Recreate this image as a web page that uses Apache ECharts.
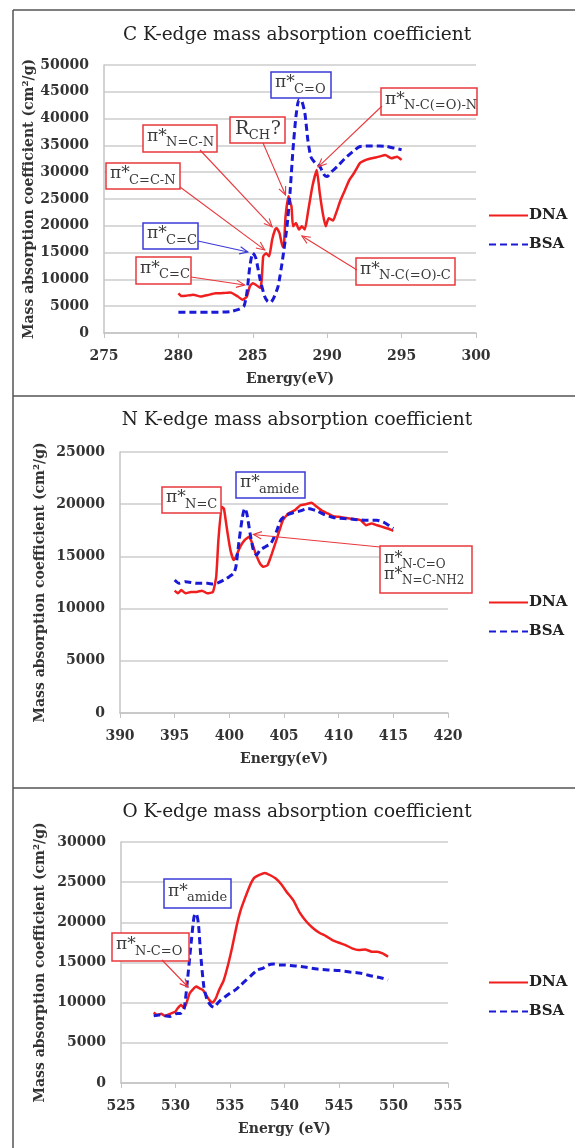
<!DOCTYPE html>
<html>
<head>
<meta charset="utf-8">
<script src="https://cdn.jsdelivr.net/npm/echarts@6/dist/echarts.min.js"></script>
<style>
html,body{margin:0;padding:0;background:#fff;}
#c{width:575px;height:1148px;}
</style>
</head>
<body>
<div id="c"></div>
<script>
// ---------- DATA ----------
const titles = ['C K-edge mass absorption coefficient', 'N K-edge mass absorption coefficient', 'O K-edge mass absorption coefficient'];
const xNames = ['Energy(eV)', 'Energy(eV)', 'Energy (eV)'];
const yName = 'Mass absorption coefficient (cm\u00B2/g)';
const seriesNames = ['DNA', 'BSA'];
const xRanges = [[275, 300], [390, 420], [525, 555]];
const yMaxes = [50000, 25000, 30000];

// C K-edge
const cDnaE = [280,280.2,280.5,281,281.5,282,282.5,283,283.5,284,284.3,284.6,284.8,285,285.2,285.5,285.6,285.7,285.9,286.1,286.3,286.5,286.6,286.8,287,287.1,287.2,287.4,287.6,287.7,287.9,288.1,288.3,288.5,288.7,289,289.3,289.5,289.7,289.9,290.1,290.4,290.6,290.9,291.2,291.5,291.8,292.2,292.6,293,293.5,293.9,294.3,294.7,295];
const cDnaV = [7400,6900,6950,7150,6800,7100,7400,7450,7550,6800,6200,6800,8700,9300,9000,8400,9900,14300,14900,14300,17400,19300,19600,18600,16100,16800,21700,25500,23600,19900,20500,19300,19900,19300,22400,27300,30400,26100,22400,19900,21400,21000,22400,24800,26700,28600,29800,31700,32300,32600,32900,33200,32600,32900,32300];
const cBsaE = [280,281,282,283,283.5,284,284.4,284.6,284.8,285,285.2,285.5,285.8,286,286.2,286.4,286.7,287,287.3,287.5,287.7,287.9,288.1,288.3,288.5,288.7,288.9,289.2,289.5,289.8,290,290.3,290.7,291.2,291.7,292.2,292.8,293.5,294,294.5,295];
const cBsaV = [3850,3850,3850,3900,4000,4350,5000,7450,12400,14900,14000,9900,6800,5900,5700,6500,8700,13700,19900,26100,34200,40400,43500,43200,41000,36000,32900,31700,31100,29500,29200,30100,31100,32600,33800,34800,34900,34900,34800,34500,34200];

// N K-edge
const nDnaE = [395,395.3,395.6,396,396.5,397,397.5,398,398.5,398.8,399,399.3,399.5,399.8,400.1,400.4,400.6,401,401.4,401.8,402.1,402.4,402.8,403.1,403.5,403.9,404.4,404.9,405.4,406,406.5,407,407.5,408,408.5,409,409.5,410,411,412,412.5,413,413.5,414,414.5,415];
const nDnaV = [11720,11460,11780,11460,11600,11600,11720,11460,11600,13060,16560,19750,19600,17500,15600,14650,14970,15930,16560,16880,16240,15290,14330,14010,14170,15290,16880,18470,19110,19430,19900,20000,20130,19750,19360,19110,18850,18790,18630,18470,17990,18150,17990,17830,17670,17450];
const nBsaE = [395,395.4,396,397,398,398.5,399,399.5,400,400.4,400.6,400.9,401.2,401.4,401.6,401.9,402.2,402.5,402.8,403.3,403.8,404.3,404.7,405.2,405.8,406.5,407.2,408,408.7,409.5,410.5,411.5,412.5,413.5,414.2,415];
const nBsaV = [12740,12420,12580,12420,12420,12360,12480,12740,13060,13380,14010,16560,18790,19600,19110,17200,15600,15130,15600,15930,16240,17360,18470,18950,19170,19360,19600,19360,19010,18730,18630,18540,18470,18470,18220,17670];

// O K-edge
const oDnaE = [528,528.3,528.7,529,529.5,530,530.2,530.5,530.8,531,531.3,531.6,531.9,532.2,532.5,532.8,533.1,533.4,533.7,534,534.4,534.8,535.2,535.6,536,536.4,536.8,537.2,537.7,538.2,538.7,539.2,539.7,540.2,540.8,541.4,542,542.6,543.2,543.8,544.4,545,545.6,546.2,546.8,547.4,548,548.5,549,549.5];
const oDnaV = [8770,8480,8610,8360,8610,8900,9310,9720,9310,9930,11170,11670,12000,11790,11590,10970,10350,10010,10550,11590,12700,14600,16900,19500,21600,23100,24500,25500,25900,26150,25860,25450,24740,23790,22760,21200,20100,19300,18700,18290,17790,17460,17170,16760,16550,16630,16350,16350,16140,15720];
const oBsaE = [528,528.5,529,529.5,530,530.5,530.8,531.1,531.4,531.7,531.9,532.1,532.3,532.6,532.9,533.2,533.5,534,534.5,535,535.5,536,536.5,537,537.5,538,538.5,539,539.5,540,541,542,543,544,545,546,547,548,549,549.5];
const oBsaV = [8360,8480,8360,8280,8610,8690,9310,12830,16970,20690,21100,19860,16140,12000,10350,9720,9430,10140,10680,11170,11590,12210,12830,13450,14070,14280,14690,14810,14690,14690,14570,14400,14190,14070,13990,13820,13660,13320,13040,12830];

// annotation labels and the data points their arrows point at
const annTexts = [
  [ ['π*','C=C'], ['π*','C=C'], ['π*','C=C-N'], ['π*','N=C-N'], ['R','CH','?'], ['π*','C=O'], ['π*','N-C(=O)-N'], ['π*','N-C(=O)-C'] ],
  [ ['π*','N=C'], ['π*','amide'], ['π*','N-C=O','π*','N=C-NH2'] ],
  [ ['π*','amide'], ['π*','N-C=O'] ]
];
const annTargets = [
  [ [284.45, 8960], [284.67, 15100], [285.8, 15500], [286.3, 19800], [287.2, 25750], null, [289.4, 31000], [288.3, 18100] ],
  [ null, null, [402.2, 17100] ],
  [ null, [531.15, 11950] ]
];

// ---------- LAYOUT / STYLE ----------
const FONT = 'DejaVu Serif';
const RED = '#f01e1e', BLUE = '#1a1ad6';
const BOX_RED = '#e8383d', BOX_BLUE = '#3a3ad8';
const grids = [
  {left:104, top:65, width:372, height:268},
  {left:120, top:452, width:328, height:261},
  {left:121, top:842, width:327, height:241}
];
const yNameGaps = [68, 73, 74];
const titleY = [35, 420, 812];
const legendTop = [203, 590, 970];
// annotation boxes [x, y, w, h], colour, arrow start pixel
const annBoxes = [
  [ {r:[136,257,55,27],c:'r',f:[191,277]}, {r:[143,223,55,26],c:'b',f:[198,241]}, {r:[106,163,74,26],c:'r',f:[180,187]},
    {r:[143,125,74,27],c:'r',f:[200,150]}, {r:[230,117,55,26],c:'r',f:[263,143]}, {r:[271,72,60,26],c:'b'},
    {r:[381,88,96,27],c:'r',f:[382,106]}, {r:[356,258,99,27],c:'r',f:[357,270]} ],
  [ {r:[162,487,59,26],c:'r'}, {r:[236,472,69,26],c:'b'}, {r:[380,546,92,47],c:'r',f:[380,547]} ],
  [ {r:[164,879,67,29],c:'b'}, {r:[112,933,77,28],c:'r',f:[162,960]} ]
];

const zip = (a, b) => a.map((x, i) => [x, b[i]]);
const panels = [[cDnaE,cDnaV,cBsaE,cBsaV],[nDnaE,nDnaV,nBsaE,nBsaV],[oDnaE,oDnaV,oBsaE,oBsaV]];

const chart = echarts.init(document.getElementById('c'), null, {renderer:'canvas'});

const xAxis = [], yAxis = [], series = [], legend = [];
for (let i = 0; i < 3; i++) {
  xAxis.push({
    type:'value', gridIndex:i, min:xRanges[i][0], max:xRanges[i][1], interval:5,
    name:xNames[i], nameLocation:'middle', nameGap:39, nameMoveOverlap:false,
    nameTextStyle:{fontFamily:FONT, fontWeight:'bold', fontSize:14, color:'#333'},
    axisLine:{show:true, lineStyle:{color:'#c4c4c4', width:1.5}},
    axisTick:{show:true, length:5, lineStyle:{color:'#c4c4c4'}},
    axisLabel:{fontFamily:FONT, fontWeight:'bold', fontSize:14, color:'#333', margin:16, formatter:v=>String(v)},
    splitLine:{show:false}
  });
  yAxis.push({
    type:'value', gridIndex:i, min:0, max:yMaxes[i], interval:5000,
    name:yName, nameLocation:'middle', nameGap:yNameGaps[i], nameMoveOverlap:false,
    nameTextStyle:{fontFamily:FONT, fontWeight:'bold', fontSize:14, color:'#333'},
    axisLine:{show:true, lineStyle:{color:'#c4c4c4', width:1.5}},
    axisTick:{show:false},
    axisLabel:{fontFamily:FONT, fontWeight:'bold', fontSize:14, color:'#333', margin:15, formatter:v=>String(v)},
    splitLine:{show:true, lineStyle:{color:'#d9d9d9', width:2}}
  });
  const p = panels[i];
  series.push({
    type:'line', name:seriesNames[0], xAxisIndex:i, yAxisIndex:i, data:zip(p[0], p[1]),
    symbol:'none', smooth:0.15, lineStyle:{color:RED, width:2.5}, itemStyle:{color:RED}, z:3
  });
  series.push({
    type:'line', name:seriesNames[1], xAxisIndex:i, yAxisIndex:i, data:zip(p[2], p[3]),
    symbol:'none', smooth:0.2, lineStyle:{color:BLUE, width:3, type:[7,4]}, itemStyle:{color:BLUE}, z:4
  });
  legend.push({
    data:seriesNames, orient:'vertical', left:483, top:legendTop[i], itemWidth:39, itemHeight:14, itemGap:14,
    selectedMode:false,
    itemStyle:{color:'rgba(0,0,0,0)', borderColor:'rgba(0,0,0,0)', borderWidth:0},
    textStyle:{fontFamily:FONT, fontWeight:'bold', fontSize:15, color:'#222', padding:[0,0,0,-4]}
  });
}

chart.setOption({
  animation:false,
  grid:grids,
  xAxis, yAxis, series, legend
});

// ---------- GRAPHICS (frame, titles, annotations) ----------
const g = [];
const frameC = '#555';
g.push({type:'line', shape:{x1:13, y1:10, x2:13, y2:1148}, style:{stroke:frameC, lineWidth:1.5}});
[10, 396, 788].forEach(y => g.push({type:'line', shape:{x1:13, y1:y, x2:575, y2:y}, style:{stroke:frameC, lineWidth:1.5}}));
for (let i = 0; i < 3; i++) {
  g.push({type:'text', x:297, y:titleY[i], style:{text:titles[i], fontFamily:FONT, fontSize:18.5, fill:'#222', align:'center', verticalAlign:'middle'}, z:10});
}
function arrow(x1, y1, x2, y2, col) {
  const a = Math.atan2(y2 - y1, x2 - x1), L = 9, s = 0.42;
  g.push({type:'line', shape:{x1, y1, x2, y2}, style:{stroke:col, lineWidth:1.1}, z:20});
  g.push({type:'polyline', shape:{points:[
    [x2 - L*Math.cos(a - s), y2 - L*Math.sin(a - s)], [x2, y2],
    [x2 - L*Math.cos(a + s), y2 - L*Math.sin(a + s)]]}, style:{stroke:col, lineWidth:1.1, fill:null}, z:20});
}
const txtC = '#3a3a3a';
function piText(x, y, main, sub, big, small) {
  const w = main === 'R' ? big*0.72 : big*1.12;
  g.push({type:'text', x:x, y:y, style:{text:main, fontFamily:FONT, fontSize:big, fill:txtC, verticalAlign:'middle'}, z:21});
  g.push({type:'text', x:x + w, y:y + big*0.38, style:{text:sub, fontFamily:FONT, fontSize:small, fill:txtC, verticalAlign:'middle'}, z:21});
  return x + w;
}
for (let i = 0; i < 3; i++) {
  annBoxes[i].forEach((b, k) => {
    const col = b.c === 'r' ? BOX_RED : BOX_BLUE;
    const [bx, by, bw, bh] = b.r;
    g.push({type:'rect', shape:{x:bx, y:by, width:bw, height:bh}, style:{fill:'#fff', stroke:col, lineWidth:1.5}, z:19});
    const t = annTexts[i][k];
    if (t.length === 4) {
      piText(bx + 4, by + 13, t[0], t[1], 16, 12);
      piText(bx + 4, by + 29, t[2], t[3], 16, 12);
    } else if (t.length === 3) {
      const sx = piText(bx + 5, by + bh*0.45, t[0], t[1], 19, 13);
      g.push({type:'text', x:sx + 22, y:by + bh*0.45, style:{text:t[2], fontFamily:FONT, fontSize:19, fill:txtC, verticalAlign:'middle'}, z:21});
    } else {
      piText(bx + 4, by + bh*0.42, t[0], t[1], 17, 13);
    }
    const tg = annTargets[i][k];
    if (tg && b.f) {
      const p = chart.convertToPixel({gridIndex:i}, tg);
      arrow(b.f[0], b.f[1], p[0], p[1], col);
    }
  });
}
chart.setOption({graphic:g});
</script>
</body>
</html>
